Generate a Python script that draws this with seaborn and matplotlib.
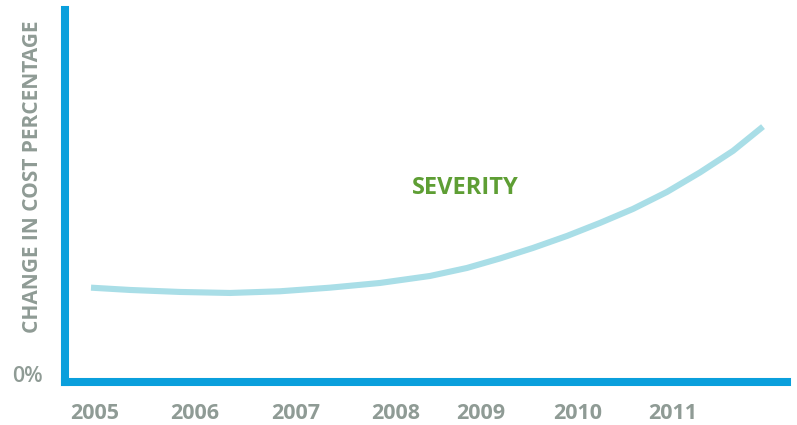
import matplotlib
matplotlib.use("Agg")
import matplotlib.pyplot as plt
import seaborn as sns
import pandas as pd

# Severity trend: cost change (arbitrary % scale, 0 at the baseline)
years = [2004.96, 2005.35, 2005.85, 2006.35, 2006.85, 2007.35, 2007.85, 2008.35, 2008.72,
         2009.05, 2009.38, 2009.72, 2010.05, 2010.38, 2010.72, 2011.05, 2011.38, 2011.68]
severity = [25.08, 24.47, 23.94, 23.67, 24.12, 25.08, 26.33, 28.19, 30.32,
            32.85, 35.64, 38.83, 42.29, 46.01, 50.53, 55.72, 61.44, 67.90]

tick_positions = [2005, 2006, 2007.01, 2008.01, 2008.855, 2009.83, 2010.78]
tick_labels = ["2005", "2006", "2007", "2008", "2009", "2010", "2011"]

df = pd.DataFrame({"year": years, "severity": severity})

sns.set_style("white")
plt.rcParams["font.family"] = ["Open Sans", "DejaVu Sans"]

W, H = 797, 425
fig = plt.figure(figsize=(W / 100, H / 100), dpi=100)
left, right, top, bottom = 65, 786.7, 10, 382
ax = fig.add_axes([left / W, (H - bottom) / H, (right - left) / W, (bottom - top) / H])

blue = "#0A9FDC"
curve = "#A9DEE7"
gray = "#8F9B95"
green = "#5E9E34"

sns.lineplot(data=df, x="year", y="severity", ax=ax, color=curve, linewidth=4.4,
             solid_capstyle="butt", solid_joinstyle="round")

ax.set_xlim(2004.70, 2011.917)
ax.set_ylim(0, 98.9)

for side in ("top", "right"):
    ax.spines[side].set_visible(False)
for side in ("left", "bottom"):
    ax.spines[side].set_color(blue)
    ax.spines[side].set_linewidth(5.8)
    ax.spines[side].set_capstyle("projecting")

ax.set_xticks(tick_positions, tick_labels)
ax.tick_params(axis="x", length=0, pad=15, labelsize=15.5, labelcolor=gray)
for t in ax.get_xticklabels():
    t.set_fontweight("bold")

ax.set_yticks([0], ["0%"])
ax.tick_params(axis="y", length=0, pad=16, labelsize=15.5, labelcolor=gray)
for t in ax.get_yticklabels():
    t.set_va("baseline")
    t.set_fontweight("semibold")

ax.set_xlabel("")
ax.set_ylabel("CHANGE IN COST PERCENTAGE", fontsize=15, fontweight="bold",
              color=gray, ha="center", va="center")
ax.yaxis.set_label_coords(-0.0457, 0.551)

ax.text(2008.70, 51.6, "SEVERITY", fontsize=17, fontweight="bold", color=green,
        ha="center", va="center")

fig.savefig("out.png", dpi=100)
